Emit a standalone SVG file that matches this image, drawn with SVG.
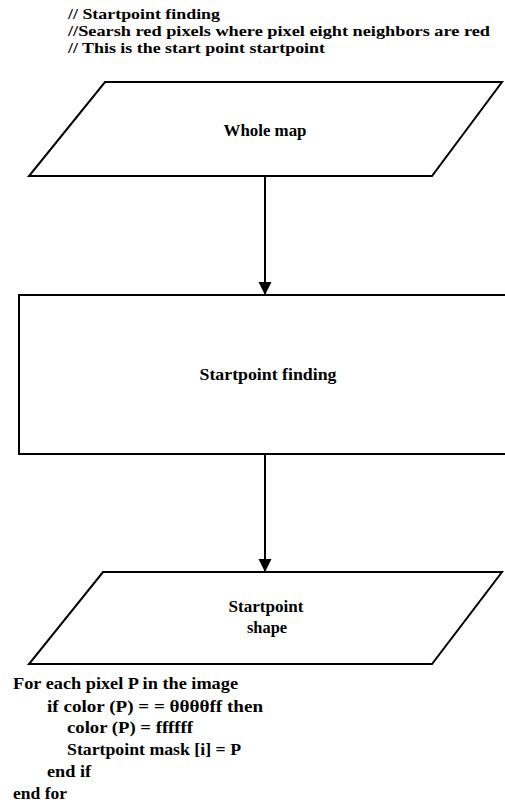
<svg xmlns="http://www.w3.org/2000/svg" width="505" height="804" viewBox="0 0 505 804">
  <style>
    .t { font-family: "Liberation Serif", "Times New Roman", serif; font-size: 16px; font-weight: bold; fill: #000; }
    .h { font-size: 15px; }
    .c { text-anchor: middle; }
    .shape { fill: #fff; stroke: #000; stroke-width: 2; }
    .edge { fill: none; stroke: #000; stroke-width: 2; }
  </style>
  <defs>
    <marker id="arrow" markerWidth="14" markerHeight="14" refX="13" refY="6.5" orient="auto" markerUnits="userSpaceOnUse">
      <path d="M0,0 L13,6.5 L0,13 Z" fill="#000"/>
    </marker>
  </defs>
  <rect width="505" height="804" fill="#fff"/>

  <!-- header comments -->
  <g id="header">
    <text class="t h" x="68" y="19" textLength="152" lengthAdjust="spacingAndGlyphs">// Startpoint finding</text>
    <text class="t h" x="68" y="36" textLength="422" lengthAdjust="spacingAndGlyphs">//Searsh red pixels where pixel eight neighbors are red</text>
    <text class="t h" x="68" y="53" textLength="257" lengthAdjust="spacingAndGlyphs">// This is the start point startpoint</text>
  </g>

  <!-- connectors -->
  <g id="connectors">
    <line class="edge" x1="265" y1="176" x2="265" y2="295" marker-end="url(#arrow)"/>
    <line class="edge" x1="265" y1="454" x2="265" y2="572" marker-end="url(#arrow)"/>
  </g>

  <g id="whole-map">
    <polygon class="shape" points="105,82 502,82 432,176 29,176"/>
    <text class="t c" x="265" y="136" textLength="83" lengthAdjust="spacingAndGlyphs">Whole map</text>
  </g>

  <g id="startpoint-finding">
    <rect class="shape" x="19" y="295" width="500" height="159"/>
    <text class="t c" x="268" y="380" textLength="137" lengthAdjust="spacingAndGlyphs">Startpoint finding</text>
  </g>

  <g id="startpoint-shape">
    <polygon class="shape" points="103,572 502,572 432,664 29,664"/>
    <text class="t c" x="266" y="612" textLength="75" lengthAdjust="spacingAndGlyphs">Startpoint</text>
    <text class="t c" x="267" y="633" textLength="40" lengthAdjust="spacingAndGlyphs">shape</text>
  </g>

  <!-- pseudocode -->
  <g id="pseudocode">
    <text class="t" x="13" y="689" textLength="225" lengthAdjust="spacingAndGlyphs">For each pixel P in the image</text>
    <text class="t" x="47" y="712" textLength="216" lengthAdjust="spacingAndGlyphs">if color (P) = =  θθθθff then</text>
    <text class="t" x="67" y="733" textLength="126" lengthAdjust="spacingAndGlyphs">color (P) = ffffff</text>
    <text class="t" x="67" y="755" textLength="174" lengthAdjust="spacingAndGlyphs">Startpoint mask [i] = P</text>
    <text class="t" x="47" y="777" textLength="44" lengthAdjust="spacingAndGlyphs">end if</text>
    <text class="t" x="13" y="799" textLength="54" lengthAdjust="spacingAndGlyphs">end for</text>
  </g>
</svg>
